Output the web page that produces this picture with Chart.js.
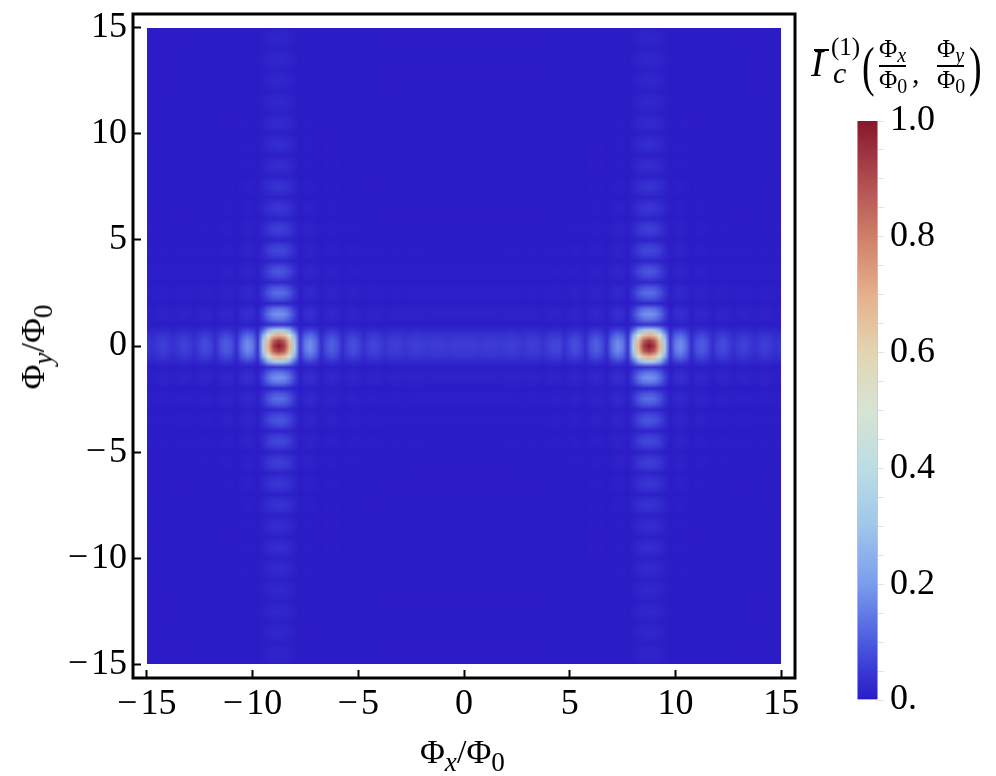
<!DOCTYPE html>
<html>
<head>
<meta charset="utf-8">
<script src="https://cdn.jsdelivr.net/npm/chart.js@4"></script>
<style>
  html, body { margin: 0; padding: 0; background: #fff; }
  #page { position: relative; width: 996px; height: 776px; overflow: hidden; font-family: "Liberation Serif", serif; color: #000; }
  canvas { position: absolute; top: 0; }
  .t { position: absolute; white-space: nowrap; line-height: 1; }
  .t i { font-style: italic; }
  .t sub { font-size: 80%; line-height: 0; vertical-align: baseline; position: relative; top: 0.3em; }
  .ax { font-size: 34px; }
  .fr { font-size: 25px; }
  .fr sub { font-size: 80%; top: 0.25em; }
</style>
</head>
<body>
<div id="page">
  <canvas id="mapChart" width="996" height="776" style="left:0"></canvas>
  <canvas id="barChart" width="156" height="776" style="left:840px"></canvas>

  <div class="t ax" style="left:420px;top:735px">Φ<sub><i>x</i></sub>/Φ<sub>0</sub></div>
  <div class="t ax" style="left:33px;top:347px;transform:translate(-50%,-50%) rotate(-90deg)">Φ<sub><i>y</i></sub>/Φ<sub>0</sub></div>

  <div class="t" style="left:811px;top:45px;font-size:37px"><i>I</i></div>
  <div style="position:absolute;left:814px;top:49px;width:15px;height:1.5px;background:#000"></div>
  <div class="t" style="left:831px;top:34px;font-size:25px">(1)</div>
  <div class="t" style="left:833px;top:58px;font-size:30px"><i>c</i></div>
  <div class="t" style="left:862px;top:39px;font-size:38px;transform:scaleY(1.45);transform-origin:top">(</div>
  <div class="t fr" style="left:879px;top:36px">Φ<sub><i>x</i></sub></div>
  <div style="position:absolute;left:879px;top:65px;width:27px;height:1.5px;background:#000"></div>
  <div class="t fr" style="left:879px;top:67px">Φ<sub>0</sub></div>
  <div class="t" style="left:912px;top:58px;font-size:30px">,</div>
  <div class="t fr" style="left:937px;top:36px">Φ<sub><i>y</i></sub></div>
  <div style="position:absolute;left:937px;top:65px;width:27px;height:1.5px;background:#000"></div>
  <div class="t fr" style="left:937px;top:67px">Φ<sub>0</sub></div>
  <div class="t" style="left:969px;top:39px;font-size:38px;transform:scaleY(1.45);transform-origin:top">)</div>
</div>

<script>
// sample positions of the map, one cell every 0.25 flux quanta
const gridPositions = [
  -15,-14.75,-14.5,-14.25,-14,-13.75,-13.5,-13.25,-13,-12.75,-12.5,-12.25,-12,-11.75,-11.5,-11.25,-11,-10.75,-10.5,-10.25,
  -10,-9.75,-9.5,-9.25,-9,-8.75,-8.5,-8.25,-8,-7.75,-7.5,-7.25,-7,-6.75,-6.5,-6.25,-6,-5.75,-5.5,-5.25,
  -5,-4.75,-4.5,-4.25,-4,-3.75,-3.5,-3.25,-3,-2.75,-2.5,-2.25,-2,-1.75,-1.5,-1.25,-1,-0.75,-0.5,-0.25,
  0,0.25,0.5,0.75,1,1.25,1.5,1.75,2,2.25,2.5,2.75,3,3.25,3.5,3.75,4,4.25,4.5,4.75,
  5,5.25,5.5,5.75,6,6.25,6.5,6.75,7,7.25,7.5,7.75,8,8.25,8.5,8.75,9,9.25,9.5,9.75,
  10,10.25,10.5,10.75,11,11.25,11.5,11.75,12,12.25,12.5,12.75,13,13.25,13.5,13.75,14,14.25,14.5,14.75,15
];
// read along the row y = 0
const rowProfile = [
  .05,.035,.05,.06,.05,.035,.05,.065,.055,.035,.06,.08,.065,.03,.08,.105,.085,.03,.13,.18,
  .15,.04,.34,.70,.93,1,.93,.70,.34,.04,.15,.18,.13,.03,.085,.11,.085,.03,.065,.085,
  .07,.035,.06,.07,.06,.04,.055,.06,.055,.045,.055,.06,.055,.05,.055,.055,.055,.05,.055,.055,
  .055,.055,.055,.05,.055,.055,.055,.05,.055,.06,.055,.045,.055,.06,.055,.04,.06,.07,.07,.035,
  .065,.085,.065,.03,.085,.11,.085,.03,.13,.18,.15,.04,.34,.70,.93,1,.93,.70,.34,.04,
  .15,.18,.13,.03,.085,.105,.08,.03,.065,.08,.06,.035,.055,.065,.05,.035,.05,.06,.05,.035,.05
];
// read along the column x = 8.75
const columnProfile = [
  .005,.012,.015,.012,.005,.014,.02,.014,.005,.014,.02,.014,.005,.015,.02,.015,.005,.018,.025,.018,
  .005,.022,.03,.022,.005,.022,.03,.022,.008,.03,.04,.03,.008,.035,.045,.035,.01,.045,.06,.045,
  .012,.055,.075,.055,.015,.07,.095,.07,.02,.095,.13,.095,.02,.14,.19,.14,.04,.34,.70,.93,
  1,.93,.70,.34,.04,.14,.19,.14,.02,.095,.13,.095,.02,.07,.095,.07,.015,.055,.075,.055,
  .012,.045,.06,.045,.01,.035,.045,.035,.008,.03,.04,.03,.008,.022,.03,.022,.005,.022,.03,.022,
  .005,.018,.025,.018,.005,.015,.02,.015,.005,.014,.02,.014,.005,.014,.02,.014,.005,.012,.015,.012,.005
];
const mapTicks = [-15, -10, -5, 0, 5, 10, 15];
const barTickLabels = ['0.', '0.2', '0.4', '0.6', '0.8', '1.0'];
const barRange = [0, 1];

// colour bar stops
const stopValues = [0, .05, .1, .2, .3, .4, .5, .6, .7, .8, .9, 1];
const stopColors = ['#2b1cc6', '#3a38d4', '#4c5ae0', '#7b9cee', '#a0c6ea', '#bcdde4', '#d6e4d4', '#e3d5b2', '#e6b08c', '#cf7f6a', '#ae4b50', '#87172b'];

Chart.defaults.font.family = '"Liberation Serif", serif';
Chart.defaults.font.size = 36;
Chart.defaults.color = '#000';

function hexToRgb(h) {
  return [parseInt(h.slice(1, 3), 16), parseInt(h.slice(3, 5), 16), parseInt(h.slice(5, 7), 16)];
}
function colorOf(v) {
  let i = 0;
  while (i < stopValues.length - 2 && v > stopValues[i + 1]) i++;
  let t = (v - stopValues[i]) / (stopValues[i + 1] - stopValues[i]);
  let a = hexToRgb(stopColors[i]), b = hexToRgb(stopColors[i + 1]);
  return [0, 1, 2].map(k => Math.round(a[k] + (b[k] - a[k]) * t));
}

let cells = [];
columnProfile.forEach((cv, j) => {
  rowProfile.forEach((rv, i) => {
    cells.push({ x: gridPositions[i], y: gridPositions[j], v: rv * cv });
  });
});

// paints the cells as one smoothed image placed with the chart scales
const heatmapPlugin = {
  id: 'heatmap',
  beforeDatasetsDraw(chart) {
    let n = gridPositions.length;
    let off = document.createElement('canvas');
    off.width = n;
    off.height = n;
    let octx = off.getContext('2d');
    let img = octx.createImageData(n, n);
    chart.data.datasets[0].data.forEach((c, idx) => {
      let col = idx % n, row = n - 1 - Math.floor(idx / n);
      let rgb = colorOf(c.v);
      let p = (row * n + col) * 4;
      img.data[p] = rgb[0];
      img.data[p + 1] = rgb[1];
      img.data[p + 2] = rgb[2];
      img.data[p + 3] = 255;
    });
    octx.putImageData(img, 0, 0);

    let x0 = chart.scales.x.getPixelForValue(gridPositions[0]);
    let x1 = chart.scales.x.getPixelForValue(gridPositions[n - 1]);
    let y0 = chart.scales.y.getPixelForValue(gridPositions[n - 1]);
    let y1 = chart.scales.y.getPixelForValue(gridPositions[0]);
    let ctx = chart.ctx;
    ctx.save();
    ctx.imageSmoothingEnabled = true;
    ctx.imageSmoothingQuality = 'medium';
    ctx.drawImage(off, 0.5, 0.5, n - 1, n - 1, x0, y0, x1 - x0, y1 - y0);
    ctx.restore();
  },
  afterDraw(chart) {
    let a = chart.chartArea;
    let ctx = chart.ctx;
    ctx.save();
    ctx.strokeStyle = '#000';
    ctx.lineWidth = 3;
    ctx.strokeRect(a.left, a.top, a.right - a.left, a.bottom - a.top);
    ctx.restore();
  }
};

function minusLabel(v) {
  return v < 0 ? '\u2212\u200a' + Math.abs(v) : String(v);
}

new Chart(document.getElementById('mapChart'), {
  type: 'scatter',
  data: { datasets: [{ data: cells, pointRadius: 0, pointHoverRadius: 0 }] },
  options: {
    responsive: false,
    animation: false,
    events: [],
    layout: { padding: { left: 0, top: 14, right: 201, bottom: 0 } },
    plugins: { legend: { display: false }, tooltip: { enabled: false } },
    scales: {
      x: {
        type: 'linear',
        min: -15.65,
        max: 15.65,
        afterBuildTicks(s) { s.ticks = mapTicks.map(v => ({ value: v })); },
        afterFit(s) { s.height = 98; s.paddingLeft = 0; s.paddingRight = 0; },
        border: { display: false },
        grid: { drawOnChartArea: false, tickLength: -8, tickWidth: 2, tickColor: '#000' },
        ticks: { callback: minusLabel, maxRotation: 0, autoSkip: false, padding: 13 }
      },
      y: {
        type: 'linear',
        min: -15.65,
        max: 15.65,
        afterBuildTicks(s) { s.ticks = mapTicks.map(v => ({ value: v })); },
        afterFit(s) { s.width = 133; s.paddingTop = 0; s.paddingBottom = 0; },
        border: { display: false },
        grid: { drawOnChartArea: false, tickLength: -8, tickWidth: 2, tickColor: '#000' },
        ticks: { callback: minusLabel, autoSkip: false, padding: 14 }
      }
    }
  },
  plugins: [heatmapPlugin]
});

// colour bar: a single floating bar on its own value axis
new Chart(document.getElementById('barChart'), {
  type: 'bar',
  data: {
    labels: ['value'],
    datasets: [{
      data: [barRange],
      barPercentage: 1,
      categoryPercentage: 1,
      borderWidth: { left: 1, right: 1, top: 0, bottom: 0 },
      borderColor: '#c8c8c8',
      borderSkipped: false,
      backgroundColor(c) {
        let a = c.chart.chartArea;
        if (!a) return stopColors[0];
        let g = c.chart.ctx.createLinearGradient(0, a.bottom, 0, a.top);
        stopValues.forEach((v, i) => g.addColorStop(v, stopColors[i]));
        return g;
      }
    }]
  },
  options: {
    responsive: false,
    animation: false,
    events: [],
    layout: { padding: { left: 17, top: 121, right: 0, bottom: 76 } },
    plugins: { legend: { display: false }, tooltip: { enabled: false } },
    scales: {
      x: { display: false },
      y: {
        position: 'right',
        min: 0,
        max: 1,
        afterBuildTicks(s) {
          s.ticks = [];
          for (let k = 0; k <= 20; k++) s.ticks.push({ value: k * 0.05 });
        },
        afterFit(s) { s.width = 118; },
        border: { display: false },
        grid: { drawOnChartArea: false, tickLength: 6, tickWidth: 1, tickColor: '#e2e2e2' },
        ticks: {
          autoSkip: false,
          padding: 6,
          callback(v, i) { return i % 4 === 0 ? barTickLabels[i / 4] : ''; }
        }
      }
    }
  }
});
</script>
</body>
</html>
